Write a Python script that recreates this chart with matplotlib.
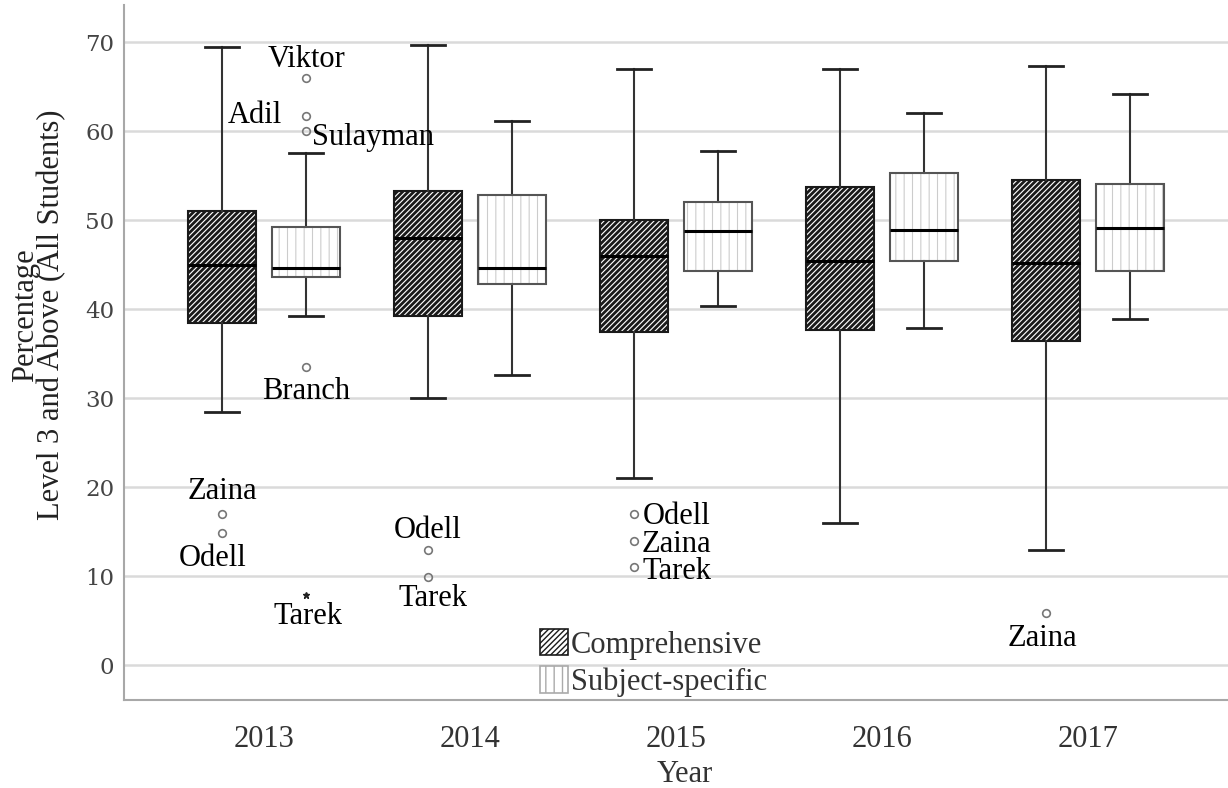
import numpy as np
import matplotlib
matplotlib.use('Agg')
import matplotlib.pyplot as plt
from matplotlib.patches import Patch

SERIF = ['Liberation Serif', 'DejaVu Serif']

years = ['2013', '2014', '2015', '2016', '2017']

# Comprehensive schools
comp_whislo = [28.5, 30.0, 21.0, 16.0, 12.9]
comp_q1 = [38.5, 39.3, 37.5, 37.7, 36.4]
comp_med = [45.0, 48.0, 46.0, 45.4, 45.2]
comp_q3 = [51.0, 53.3, 50.0, 53.7, 54.5]
comp_whishi = [69.5, 69.7, 67.0, 67.0, 67.4]
comp_out_vals = [[17.0, 14.9], [12.9, 9.9], [17.0, 14.0, 11.0], [], [5.9]]
comp_out_names = [['Zaina', 'Odell'], ['Odell', 'Tarek'], ['Odell', 'Zaina', 'Tarek'], [], ['Zaina']]

# Subject-specific schools
subj_whislo = [39.3, 32.6, 40.4, 37.9, 38.9]
subj_q1 = [43.6, 42.8, 44.3, 45.4, 44.3]
subj_med = [44.6, 44.7, 48.8, 48.9, 49.1]
subj_q3 = [49.2, 52.9, 52.1, 55.3, 54.1]
subj_whishi = [57.6, 61.2, 57.8, 62.1, 64.2]
subj_out_vals = [[66.0, 61.7, 60.0, 33.5], [], [], [], []]
subj_out_names = [['Viktor', 'Adil', 'Sulayman', 'Branch'], [], [], [], []]
subj_ext_vals = [[7.9], [], [], [], []]
subj_ext_names = [['Tarek'], [], [], [], []]

# label placement (pixels from the point, horizontal alignment)
label_pos = {
    ('c', 0, 'Zaina'): (0, 26, 'center'),
    ('c', 0, 'Odell'): (-9, -22, 'center'),
    ('c', 1, 'Odell'): (0, 23, 'center'),
    ('c', 1, 'Tarek'): (5, -18, 'center'),
    ('c', 2, 'Odell'): (9, 1, 'left'),
    ('c', 2, 'Zaina'): (8, 0, 'left'),
    ('c', 2, 'Tarek'): (9, -1, 'left'),
    ('c', 4, 'Zaina'): (-4, -22, 'center'),
    ('s', 0, 'Viktor'): (0, 22, 'center'),
    ('s', 0, 'Adil'): (-24, 4, 'right'),
    ('s', 0, 'Sulayman'): (6, -3, 'left'),
    ('s', 0, 'Branch'): (0, -21, 'center'),
    ('s', 0, 'Tarek'): (2, -18, 'center'),
}


def make_stats(lo, q1, med, q3, hi, fl):
    return [dict(whislo=lo[i], q1=q1[i], med=med[i], q3=q3[i], whishi=hi[i],
                 fliers=fl[i]) for i in range(len(lo))]


fig = plt.figure(figsize=(12.28, 7.88), dpi=100)
ax = fig.add_axes([124 / 1228, 88 / 788, 1104 / 1228, 695 / 788])

x = np.arange(len(years))
off = 0.204
w = 0.33

flier_style = dict(marker='o', markersize=5.5, markerfacecolor='none',
                   markeredgecolor='#777777', markeredgewidth=1.2, linestyle='none')

with plt.rc_context({'hatch.linewidth': 2.0}):
    ax.bxp(make_stats(comp_whislo, comp_q1, comp_med, comp_q3, comp_whishi, comp_out_vals),
           positions=x - off, widths=w, patch_artist=True, manage_ticks=False,
           capwidths=w / 2,
           boxprops=dict(facecolor='white', edgecolor='#1a1a1a', linewidth=1.5, hatch='//////'),
           medianprops=dict(color='black', linewidth=2.2),
           whiskerprops=dict(color='#333333', linewidth=1.5),
           capprops=dict(color='#222222', linewidth=2.0),
           flierprops=flier_style, zorder=3)

with plt.rc_context({'hatch.linewidth': 0.8}):
    ax.bxp(make_stats(subj_whislo, subj_q1, subj_med, subj_q3, subj_whishi, subj_out_vals),
           positions=x + off, widths=w, patch_artist=True, manage_ticks=False,
           capwidths=w / 2,
           boxprops=dict(facecolor='white', edgecolor='#cccccc', linewidth=0, hatch='||'),
           medianprops=dict(color='black', linewidth=2.2, zorder=4),
           whiskerprops=dict(color='#333333', linewidth=1.5),
           capprops=dict(color='#222222', linewidth=2.0),
           flierprops=flier_style, zorder=3)
# outline of subject-specific boxes
ax.bar(x + off, np.array(subj_q3) - np.array(subj_q1), bottom=subj_q1, width=w,
       fill=False, edgecolor='#555555', linewidth=1.5, zorder=3.5)

# extreme values
for i, vals in enumerate(subj_ext_vals):
    if vals:
        ax.plot([x[i] + off] * len(vals), vals, linestyle='none', marker='*',
                markersize=5, color='#222222', zorder=4)

# outlier labels
for key, xs, vals_list, names_list in [('c', x - off, comp_out_vals, comp_out_names),
                                       ('s', x + off, subj_out_vals, subj_out_names),
                                       ('s', x + off, subj_ext_vals, subj_ext_names)]:
    for i, (vals, names) in enumerate(zip(vals_list, names_list)):
        for v, n in zip(vals, names):
            dx, dy, ha = label_pos[(key, i, n)]
            ax.annotate(n, (xs[i], v), xytext=(dx * 0.72, dy * 0.72),
                        textcoords='offset points', ha=ha, va='center_baseline',
                        fontsize=22, family=SERIF, color='black', zorder=5)

ax.set_xlim(-0.68, 4.68)
ax.set_ylim(-3.9, 74.2)
ax.set_xticks(x, years, fontsize=22, family=SERIF, color='#333333')
ax.set_yticks(range(0, 71, 10))
ax.set_yticklabels([str(v) for v in range(0, 71, 10)], fontsize=16.5,
                   family='DejaVu Serif', color='#444444')
ax.tick_params(axis='x', length=0, pad=18)
ax.tick_params(axis='y', length=0, pad=7)
ax.yaxis.grid(True, color='#dadada', linewidth=1.8)
ax.set_axisbelow(True)
for s in ['top', 'right']:
    ax.spines[s].set_visible(False)
for s in ['left', 'bottom']:
    ax.spines[s].set_color('#a8a8a8')
    ax.spines[s].set_linewidth(1.5)

fig.text(39 / 1228, 1 - 315 / 788, 'Percentage\nLevel 3 and Above (All Students)',
         rotation=90, ha='center', va='center', multialignment='center',
         linespacing=0.85, fontsize=22, family=SERIF, color='#222222')
fig.text(685 / 1228, 1 - 774 / 788, 'Year', ha='center', va='center',
         fontsize=22, family=SERIF, color='#333333')

with plt.rc_context({'hatch.linewidth': 2.0}):
    h1 = Patch(facecolor='white', edgecolor='#1a1a1a', hatch='//////', linewidth=1.2)
with plt.rc_context({'hatch.linewidth': 0.8}):
    h2 = Patch(facecolor='white', edgecolor='#aaaaaa', hatch='||', linewidth=1.2)
ax.legend([h1, h2], ['Comprehensive', 'Subject-specific'], loc='upper left',
          bbox_to_anchor=(540 / 1228, 1 - 629 / 788), bbox_transform=fig.transFigure,
          frameon=False, borderpad=0, borderaxespad=0, handlelength=0.9,
          handleheight=0.95, handletextpad=0.1, labelspacing=0.22,
          prop=dict(family=SERIF, size=22), labelcolor='#333333')

fig.savefig('out.png', dpi=100)
